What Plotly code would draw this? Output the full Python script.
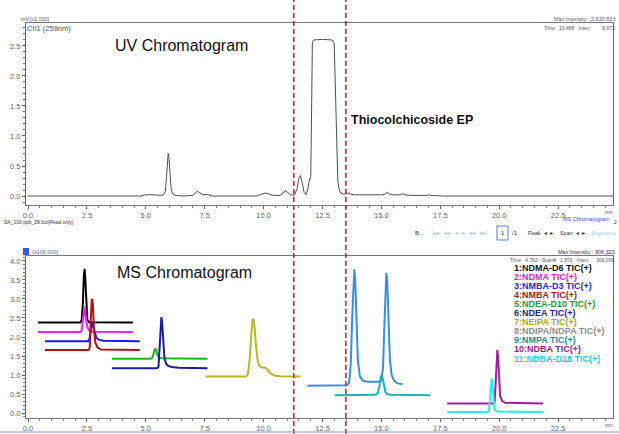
import plotly.graph_objects as go

W, H = 619, 434

# ---------------- UV chromatogram (mV x1,000) ----------------
uv_time = [0.0, 4.8, 4.95, 5.05, 5.15, 5.25, 5.35, 5.6, 5.75, 5.83, 5.88, 5.92, 5.95, 5.98,
           6.02, 6.07, 6.13, 6.25, 6.6, 7.0, 7.1, 7.2, 7.3, 7.45, 7.6, 7.7, 7.8, 9.7, 9.9,
           10.05, 10.2, 10.4, 10.7, 10.82, 10.92, 11.02, 11.15, 11.3, 11.42, 11.5, 11.56,
           11.64, 11.72, 11.8, 11.88, 11.95, 12.0, 12.03, 12.07, 12.12, 12.5, 12.9, 12.98,
           13.0, 13.05, 13.1, 13.15, 13.2, 13.28, 13.4, 13.55, 13.62, 13.7, 13.85, 14.2,
           14.6, 15.0, 15.15, 15.25, 15.35, 15.5, 15.8, 15.9, 16.0, 16.3, 16.9, 17.0, 17.1,
           17.6, 25.0]
uv_signal = [0.0, 0.0, 0.02, 0.015, 0.025, 0.02, 0.01, 0.01, 0.02, 0.08, 0.32, 0.62, 0.71, 0.64,
             0.38, 0.14, 0.04, 0.01, 0.0, 0.01, 0.05, 0.08, 0.05, 0.02, 0.03, 0.01, 0.0, 0.0, 0.03,
             0.05, 0.04, 0.01, 0.01, 0.05, 0.09, 0.06, 0.02, 0.01, 0.12, 0.30, 0.34,
             0.22, 0.06, 0.02, 0.12, 0.28, 0.32, 1.2, 2.55, 2.6, 2.61, 2.6, 2.57,
             2.5, 1.6, 0.6, 0.25, 0.12, 0.05, 0.03, 0.04, 0.05, 0.03, 0.02, 0.02,
             0.015, 0.02, 0.03, 0.06, 0.03, 0.02, 0.02, 0.04, 0.02, 0.01, 0.01, 0.02, 0.01,
             0.0, 0.0]

# ---------------- MS chromatogram TIC(+) (x100,000) ----------------
ms_names = ["NDMA-D6", "NDMA", "NMBA-D3", "NMBA", "NDEA-D10", "NDEA", "NEIPA",
            "NDIPA/NDPA", "NMPA", "NDBA", "NDBA-D18"]
ms_colors = ["#000000", "#f01cf0", "#1a1af0", "#b01212", "#22b022", "#1c1ca0", "#b8b822",
             "#3a8ee8", "#22b0b0", "#a020a0", "#22eef8"]

ms_time = [
    [0.43, 2.22, 2.28, 2.33, 2.37, 2.40, 2.43, 2.47, 2.52, 2.6, 4.45],
    [0.43, 2.22, 2.28, 2.33, 2.37, 2.40, 2.44, 2.50, 2.58, 2.7, 4.45],
    [0.72, 2.55, 2.61, 2.66, 2.70, 2.73, 2.77, 2.83, 2.9, 3.0, 3.2, 4.74],
    [0.72, 2.57, 2.62, 2.66, 2.70, 2.73, 2.76, 2.80, 2.86, 2.95, 3.1, 4.74],
    [3.56, 5.22, 5.28, 5.33, 5.38, 5.41, 5.45, 5.50, 5.56, 5.65, 7.62],
    [3.56, 5.48, 5.54, 5.59, 5.63, 5.66, 5.69, 5.73, 5.79, 5.86, 5.95, 6.1, 6.4, 7.62],
    [7.53, 9.25, 9.33, 9.40, 9.47, 9.53, 9.57, 9.62, 9.68, 9.75, 9.82, 9.92, 10.05, 10.15,
     10.28, 10.45, 10.7, 11.57],
    [11.86, 13.55, 13.63, 13.70, 13.76, 13.81, 13.85, 13.89, 13.94, 14.0, 14.08, 14.2, 14.4,
     14.9, 15.0, 15.07, 15.12, 15.17, 15.21, 15.25, 15.30, 15.36, 15.44, 15.55, 15.7, 15.9],
    [13.02, 14.75, 14.85, 14.92, 14.97, 15.01, 15.05, 15.10, 15.17, 15.25, 15.4, 17.06],
    [17.79, 19.76, 19.81, 19.85, 19.89, 19.92, 19.95, 19.99, 20.04, 20.12, 20.25, 21.86],
    [17.79, 19.52, 19.57, 19.61, 19.65, 19.68, 19.71, 19.75, 19.80, 19.9, 21.86],
]
ms_signal = [
    [2.38, 2.38, 2.45, 2.9, 3.6, 3.79, 3.55, 2.85, 2.45, 2.39, 2.38],
    [2.13, 2.13, 2.18, 2.5, 2.76, 2.80, 2.6, 2.3, 2.18, 2.14, 2.13],
    [1.89, 1.89, 1.95, 2.2, 2.34, 2.35, 2.25, 2.08, 1.98, 1.93, 1.9, 1.89],
    [1.66, 1.66, 1.72, 2.4, 2.95, 3.0, 2.8, 2.2, 1.85, 1.72, 1.67, 1.66],
    [1.43, 1.43, 1.46, 1.58, 1.67, 1.68, 1.64, 1.52, 1.46, 1.44, 1.43],
    [1.18, 1.18, 1.22, 1.7, 2.35, 2.52, 2.4, 1.9, 1.45, 1.3, 1.24, 1.21, 1.19, 1.18],
    [0.96, 0.96, 1.02, 1.35, 2.0, 2.45, 2.47, 2.25, 1.75, 1.38, 1.24, 1.2, 1.2, 1.15,
     1.05, 0.99, 0.97, 0.96],
    [0.72, 0.73, 0.8, 1.3, 2.5, 3.55, 3.78, 3.5, 2.4, 1.4, 0.98, 0.86, 0.82,
     0.82, 0.86, 1.2, 2.2, 3.3, 3.68, 3.45, 2.5, 1.4, 0.98, 0.84, 0.78, 0.76],
    [0.47, 0.48, 0.53, 0.72, 0.95, 1.0, 0.93, 0.72, 0.55, 0.5, 0.48, 0.47],
    [0.25, 0.25, 0.3, 0.8, 1.5, 1.66, 1.5, 0.9, 0.45, 0.32, 0.27, 0.25],
    [0.03, 0.03, 0.08, 0.45, 0.85, 0.91, 0.8, 0.4, 0.1, 0.04, 0.03],
]

legend_labels = ["1:NDMA-D6 TIC(+)", "2:NDMA TIC(+)", "3:NMBA-D3 TIC(+)", "4:NMBA TIC(+)",
                 "5:NDEA-D10 TIC(+)", "6:NDEA TIC(+)", "7:NEIPA TIC(+)",
                 "8:NDIPA/NDPA TIC(+)", "9:NMPA TIC(+)", "10:NDBA TIC(+)",
                 "11:NDBA-D18 TIC(+)"]
legend_colors = ["#111111", "#e020e0", "#2a2ad8", "#a01c1c", "#2a9a2a", "#26268e", "#aaaa22",
                 "#8e8e8e", "#1e8e8e", "#921e92", "#22d8ea"]

x_ticks = [0.0, 2.5, 5.0, 7.5, 10.0, 12.5, 15.0, 17.5, 20.0, 22.5]
uv_y_ticks = [0.0, 0.5, 1.0, 1.5, 2.0, 2.5]
ms_y_ticks = [0.0, 0.5, 1.0, 1.5, 2.0, 2.5, 3.0, 3.5, 4.0]
marker_times = [11.28, 13.49]


def px(x):
    return x / W


def py(y):
    return 1 - y / H


fig = go.Figure()
fig.add_trace(go.Scatter(x=uv_time, y=uv_signal, mode="lines", xaxis="x", yaxis="y",
                         line=dict(color="#505050", width=1), showlegend=False,
                         name="Ch1 (259nm)"))
for t, s, c, n in zip(ms_time, ms_signal, ms_colors, ms_names):
    fig.add_trace(go.Scatter(x=t, y=s, mode="lines", xaxis="x2", yaxis="y2",
                             line=dict(color=c, width=2), showlegend=False, name=n))

tickfont = dict(family="Arial, Liberation Sans", size=7.5, color="#6a6a6a")
common_x = dict(range=[-0.085, 24.83], tickvals=x_ticks, ticktext=[f"{v:.1f}" for v in x_ticks],
                showline=True, linecolor="#777777", linewidth=1, mirror=True,
                ticks="outside", ticklen=3, tickcolor="#666666", tickfont=tickfont,
                showgrid=False, zeroline=False,
                minor=dict(dtick=0.5, ticks="outside", ticklen=2, tickcolor="#888888"))
common_y = dict(showline=True, linecolor="#666666", linewidth=1, mirror=True,
                ticks="outside", ticklen=3, tickcolor="#666666", tickfont=tickfont,
                showgrid=False, zeroline=False,
                minor=dict(dtick=0.1, ticks="outside", ticklen=2, tickcolor="#888888"))

fig.update_layout(
    width=W, height=H,
    margin=dict(l=0, r=0, t=0, b=0, autoexpand=False),
    paper_bgcolor="white", plot_bgcolor="white",
    font=dict(family="Arial, Liberation Sans"),
    xaxis=dict(domain=[px(26), px(613)], anchor="y", **common_x),
    yaxis=dict(domain=[py(205), py(23)], anchor="x", range=[-0.15, 2.883],
               tickvals=uv_y_ticks, ticktext=[f"{v:.1f}" for v in uv_y_ticks], **common_y),
    xaxis2=dict(domain=[px(26), px(613)], anchor="y2", **common_x),
    yaxis2=dict(domain=[py(418), py(256)], anchor="x2", range=[-0.13, 4.13],
                tickvals=ms_y_ticks, ticktext=[f"{v:.1f}" for v in ms_y_ticks], **common_y),
)

shapes = []
for t in marker_times:
    shapes.append(dict(type="line", xref="x", yref="paper", x0=t, x1=t, y0=0, y1=1,
                       line=dict(color="#e01818", width=1.5, dash="5px,3px"), layer="above"))
shapes.append(dict(type="line", xref="paper", yref="paper", x0=0, x1=1, y0=py(432), y1=py(432),
                   line=dict(color="#8a96c8", width=1)))
shapes.append(dict(type="rect", xref="paper", yref="paper", x0=px(497), x1=px(508),
                   y0=py(240), y1=py(226), line=dict(color="#5a78d0", width=1)))
shapes.append(dict(type="rect", xref="paper", yref="paper", x0=px(23), x1=px(29),
                   y0=py(255), y1=py(248), line=dict(color="#3050c0", width=0),
                   fillcolor="#3a5ad0"))
fig.update_layout(shapes=shapes)

ann = []


def text(x, y, s, size, color="#000000", anchor="left", bold=False, family="Arial, Liberation Sans"):
    ann.append(dict(xref="paper", yref="paper", x=px(x), y=py(y), text=(f"<b>{s}</b>" if bold else s),
                    showarrow=False, xanchor=anchor, yanchor="middle",
                    font=dict(size=size, color=color, family=family)))


text(19, 19, "mV(x1,000)", 5.5, "#5a5a7a")
text(25, 29, "Ch1 (259nm)", 7.5, "#2e5c5c")
text(617, 19, "Max Intensity : 2,630,833", 5.5, "#5a5a6a", "right")
text(617, 28, "Time   10.488   Inten.        5,973", 5, "#5a5a6a", "right")
text(113, 46, "UV Chromatogram", 16, "#111111")
text(349, 120, "Thiocolchicoside EP", 12.5, "#111111", bold=True)
text(615, 212, "mn", 5.5, "#555555", "right")
text(2, 222, "SA_100 ppb_28.lcd(Read only)", 5, "#333344")
text(612, 219, "MS Chromatogram", 5.5, "#3355cc", "right")
text(619, 222, "2", 5, "#333344", "right")
text(413, 233, "B...", 6, "#333344")
text(430, 233, "|◂◂   ◂◂   ◂   ▸   ▸▸   ▸▸|", 5.5, "#9ccaea")
text(502.5, 233, "1", 6, "#333344", "center")
text(510, 233, "/1", 6, "#333344")
text(526, 233, "Peak  ◂  ▸", 5.5, "#333344")
text(558, 233, "Scan  ◂  ▸", 5.5, "#333344")
text(618, 233, "Segment ◂", 5, "#9ccaea", "right")
text(30, 252, "(x100,000)", 5.5, "#5a5a7a")
text(617, 252, "Max Intensity : 306,323", 5.5, "#333344", "right")
text(617, 260, "Time   4.763   Scan#   1,676   Inten.     306,099", 5, "#5a5a6a", "right")
text(115, 272, "MS Chromatogram", 16, "#111111")
text(615, 425, "mn", 5.5, "#555555", "right")
for i, (lab, col) in enumerate(zip(legend_labels, legend_colors)):
    text(512, 267.5 + i * 9.1, lab, 9, col, bold=True)

fig.update_layout(annotations=ann)
fig.write_html("out.html", config={"displayModeBar": False},
               post_script="document.body.style.margin='0px';document.body.style.overflow='hidden';")
